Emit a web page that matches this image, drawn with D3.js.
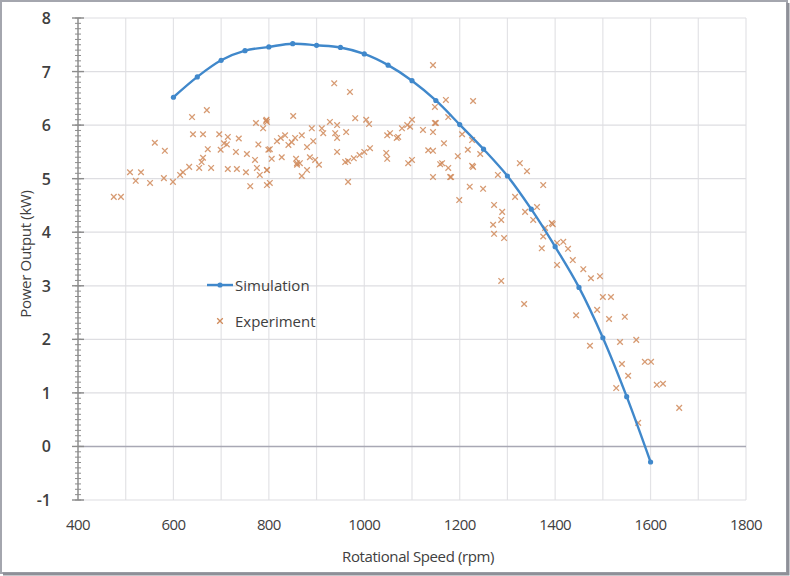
<!DOCTYPE html>
<html>
<head>
<meta charset="utf-8">
<script src="https://cdn.jsdelivr.net/npm/d3@7"></script>
<style>
  body { margin: 0; background: #fff; }
  text { font-family: "Open Sans", "Noto Sans", sans-serif; fill: #404040; }
</style>
</head>
<body>
<div id="chart"></div>
<script>

// simulation curve, every 50 rpm
var simRpm = [600, 650, 700, 750, 800, 850, 900, 950, 1000, 1050, 1100,
              1150, 1200, 1250, 1300, 1350, 1400, 1450, 1500, 1550, 1600];
var simKw  = [6.52, 6.90, 7.21, 7.39, 7.46, 7.52, 7.49, 7.45, 7.33, 7.12, 6.83,
              6.46, 6.01, 5.55, 5.05, 4.43, 3.73, 2.97, 2.03, 0.93, -0.29];

var expRpm = [475, 490, 509, 532, 521, 551, 561, 582, 580, 599, 614, 620, 633, 654, 659, 662, 672, 679,
              639, 670, 641, 662, 696, 714, 706, 712, 699, 737, 731, 754, 771, 714, 733, 752, 778, 775,
              761, 796, 799, 773, 795, 788, 796, 796,
              937, 970, 851, 794, 817, 825, 834, 841, 848, 855, 869, 802, 806, 827, 857, 859, 880, 893,
              890, 911, 914, 928, 943, 939, 943, 962, 886, 897, 905, 880, 869, 859, 865, 796, 802, 781,
              966, 943, 960, 966, 978, 990, 1000, 1012, 981, 1004, 1010, 1048, 1054, 1068, 1046, 1048,
              1090, 1100, 1079, 1123, 1092, 1100, 1134, 1071, 1096, 1148, 1144, 1144, 1167, 1196, 1217,
              1228, 1163, 1176, 1144, 1180, 1221, 1249, 1199, 1280, 1326, 1341, 1375, 1316, 1272, 1289,
              1270, 1287, 1337, 1362, 1393, 1293, 1144, 1171, 1148, 1176, 1150, 1205, 1226, 1243, 1159,
              1182, 1226, 1354, 1272, 1375, 1404, 1417, 1427, 1287, 1379, 1372, 1404, 1437, 1459, 1475,
              1494, 1335, 1444, 1488, 1500, 1517, 1513, 1546, 1473, 1536, 1570, 1540, 1553, 1588, 1601,
              1528, 1613, 1626, 1660, 1574, 1228, 1395];
var expKw  = [4.66, 4.66, 5.12, 5.12, 4.96, 4.92, 5.67, 5.52, 5.01, 4.94, 5.07, 5.12, 5.22, 5.20, 5.31, 5.39, 5.55, 5.20,
              6.15, 6.28, 5.83, 5.83, 5.83, 5.78, 5.66, 5.64, 5.54, 5.75, 5.50, 5.46, 5.35, 5.18, 5.18, 5.12, 5.64, 5.20,
              4.86, 5.16, 5.54, 6.04, 6.10, 5.94, 6.06, 4.88,
              6.78, 6.62, 6.17, 6.08, 5.70, 5.76, 5.81, 5.63, 5.68, 5.76, 5.81, 5.55, 5.37, 5.40, 5.37, 5.26, 5.59, 5.70,
              5.94, 5.94, 5.85, 6.06, 6.00, 5.85, 5.76, 5.87, 5.40, 5.35, 5.26, 5.16, 5.05, 5.29, 5.29, 5.16, 4.92, 5.07,
              4.94, 5.50, 5.31, 5.33, 5.38, 5.44, 5.50, 5.57, 6.13, 6.10, 6.02, 5.81, 5.85, 5.76, 5.48, 5.37,
              6.00, 6.10, 5.94, 5.91, 5.29, 5.35, 5.53, 5.78, 5.97, 6.04, 5.87, 5.52, 5.66, 5.42, 5.54,
              5.22, 5.29, 5.20, 5.03, 5.03, 4.85, 4.81, 4.60, 5.07, 5.29, 5.14, 4.88, 4.66, 4.51, 4.38,
              4.14, 4.23, 4.38, 4.47, 4.17, 3.89, 7.12, 6.47, 6.34, 6.15, 6.04, 5.83, 5.72, 5.46, 5.27,
              5.03, 5.24, 4.23, 3.97, 3.92, 3.80, 3.82, 3.69, 3.09, 4.08, 3.70, 3.39, 3.48, 3.31, 3.14,
              3.18, 2.66, 2.45, 2.55, 2.79, 2.79, 2.38, 2.42, 1.88, 1.95, 1.99, 1.54, 1.32, 1.58, 1.58,
              1.09, 1.15, 1.17, 0.72, 0.44, 6.45, 4.15];

var xTicks = [400, 600, 800, 1000, 1200, 1400, 1600, 1800];
var yTicks = [-1, 0, 1, 2, 3, 4, 5, 6, 7, 8];

var width = 790
  , height = 576
  , blue = "#4088cb"
  , orange = "#d08a5a";

var svg = d3.select("#chart").append("svg")
  .attr("width", width)
  .attr("height", height);

var x = d3.scaleLinear().domain([400, 1800]).range([78, 746])
  , y = d3.scaleLinear().domain([-1, 8]).range([500, 18]);

// vertical gridlines every 100 rpm
svg.append("g").selectAll("line")
  .data(d3.range(500, 1801, 100))
  .join("line")
    .attr("x1", function (d) { return x(d); })
    .attr("x2", function (d) { return x(d); })
    .attr("y1", y(8))
    .attr("y2", y(-1))
    .attr("stroke", "#e3e3e6")
    .attr("stroke-width", 1.2);

// horizontal gridlines
svg.append("g").selectAll("line")
  .data(yTicks.filter(function (d) { return d !== 0; }))
  .join("line")
    .attr("x1", x(400))
    .attr("x2", x(1800))
    .attr("y1", function (d) { return y(d); })
    .attr("y2", function (d) { return y(d); })
    .attr("stroke", "#dedee2")
    .attr("stroke-width", 1.2);

// x axis sits at zero
svg.append("line")
  .attr("x1", x(400)).attr("x2", x(1800))
  .attr("y1", y(0)).attr("y2", y(0))
  .attr("stroke", "#a8a8b4")
  .attr("stroke-width", 1.6);

// y axis with major and minor ticks
var yAxis = svg.append("g").attr("transform", "translate(" + x(400) + ",0)");

yAxis.append("line")
  .attr("y1", y(8)).attr("y2", y(-1))
  .attr("stroke", "#8c8c8c")
  .attr("stroke-width", 1.5);

yAxis.selectAll("line.minor")
  .data(d3.range(-10, 81).map(function (d) { return d / 10; }))
  .join("line")
    .attr("class", "minor")
    .attr("x1", -3).attr("x2", 3)
    .attr("y1", function (d) { return y(d); })
    .attr("y2", function (d) { return y(d); })
    .attr("stroke", "#8c8c8c")
    .attr("stroke-width", 1);

yAxis.selectAll("line.major")
  .data(yTicks)
  .join("line")
    .attr("class", "major")
    .attr("x1", -6).attr("x2", 6)
    .attr("y1", function (d) { return y(d); })
    .attr("y2", function (d) { return y(d); })
    .attr("stroke", "#8c8c8c")
    .attr("stroke-width", 1.4);

yAxis.selectAll("text")
  .data(yTicks)
  .join("text")
    .attr("x", -27)
    .attr("y", function (d) { return y(d) + 6; })
    .attr("text-anchor", "end")
    .attr("font-size", 16)
    .attr("font-weight", 600)
    .text(function (d) { return d; });

// x tick labels along the bottom
svg.append("g").selectAll("text")
  .data(xTicks)
  .join("text")
    .attr("x", function (d) { return x(d); })
    .attr("y", 530)
    .attr("text-anchor", "middle")
    .attr("font-size", 15)
    .attr("letter-spacing", -0.6)
    .text(function (d) { return d; });

svg.append("text")
  .attr("x", 418)
  .attr("y", 562)
  .attr("text-anchor", "middle")
  .attr("font-size", 15)
  .attr("letter-spacing", -0.4)
  .text("Rotational Speed (rpm)");

svg.append("text")
  .attr("transform", "translate(31,254) rotate(-90)")
  .attr("text-anchor", "middle")
  .attr("font-size", 15)
  .attr("letter-spacing", -0.3)
  .text("Power Output (kW)");

// experiment crosses
var cross = function (cx, cy, s) {
  return "M" + (cx - s) + "," + (cy - s) + "L" + (cx + s) + "," + (cy + s) +
         "M" + (cx - s) + "," + (cy + s) + "L" + (cx + s) + "," + (cy - s);
};

svg.append("g").selectAll("path")
  .data(d3.range(expRpm.length))
  .join("path")
    .attr("d", function (i) { return cross(x(expRpm[i]), y(expKw[i]), 2.8); })
    .attr("stroke", orange)
    .attr("stroke-width", 1.3)
    .attr("stroke-opacity", 0.85)
    .attr("fill", "none");

// simulation line
var simData = simRpm.map(function (d, i) { return [d, simKw[i]]; });

svg.append("path")
  .datum(simData)
  .attr("d", d3.line()
    .x(function (d) { return x(d[0]); })
    .y(function (d) { return y(d[1]); })
    .curve(d3.curveCatmullRom))
  .attr("fill", "none")
  .attr("stroke", blue)
  .attr("stroke-width", 2.4);

svg.append("g").selectAll("circle")
  .data(simData)
  .join("circle")
    .attr("cx", function (d) { return x(d[0]); })
    .attr("cy", function (d) { return y(d[1]); })
    .attr("r", 2.6)
    .attr("fill", blue);

// legend
var legend = svg.append("g").attr("transform", "translate(207,285)");

legend.append("line")
  .attr("x1", 0).attr("x2", 26)
  .attr("stroke", blue)
  .attr("stroke-width", 2.4);
legend.append("circle").attr("cx", 13).attr("r", 2.6).attr("fill", blue);
legend.append("text")
  .attr("x", 28).attr("y", 6)
  .attr("font-size", 15)
  .text("Simulation");

legend.append("path")
  .attr("d", cross(13, 36, 2.8))
  .attr("stroke", orange)
  .attr("stroke-width", 1.3)
  .attr("fill", "none");
legend.append("text")
  .attr("x", 28).attr("y", 42)
  .attr("font-size", 15)
  .text("Experiment");

// picture frame
svg.append("rect")
  .attr("x", 1).attr("y", 1)
  .attr("width", width - 4).attr("height", height - 4)
  .attr("fill", "none")
  .attr("stroke", "#a4a6ae")
  .attr("stroke-width", 2);
svg.append("path")
  .attr("d", "M3," + (height - 2) + "H" + (width - 2) + "V3")
  .attr("fill", "none")
  .attr("stroke", "#8e9098")
  .attr("stroke-width", 3);

</script>
</body>
</html>
